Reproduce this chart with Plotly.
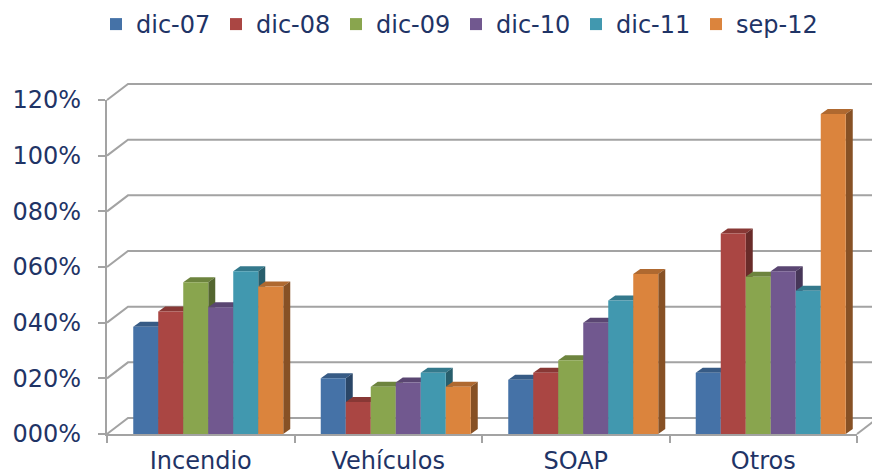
import plotly.graph_objects as go

# Ratio per line of business at each cut-off date
categories = ["Incendio", "Vehículos", "SOAP", "Otros"]
periods = ["dic-07", "dic-08", "dic-09", "dic-10", "dic-11", "sep-12"]
dic_07 = [0.385, 0.20, 0.195, 0.22]
dic_08 = [0.44, 0.115, 0.22, 0.72]
dic_09 = [0.545, 0.17, 0.265, 0.565]
dic_10 = [0.455, 0.185, 0.40, 0.585]
dic_11 = [0.585, 0.22, 0.48, 0.515]
sep_12 = [0.53, 0.17, 0.575, 1.15]
series = [dic_07, dic_08, dic_09, dic_10, dic_11, sep_12]

tick_vals = [0, 0.2, 0.4, 0.6, 0.8, 1.0, 1.2]
tick_text = ["000%", "020%", "040%", "060%", "080%", "100%", "120%"]

colors = ["#4572A7", "#AA4643", "#89A54E", "#71588F", "#4198AF", "#DB843D"]

# Layout geometry
W, H = 872, 476
M_L, M_R, M_T, M_B = 107, 15, 100, 42
PLOT_W, PLOT_H = W - M_L - M_R, H - M_T - M_B
X_RANGE = [-0.5, len(categories) - 0.5]
Y_RANGE = [0, 1.2]
px_x = PLOT_W / (X_RANGE[1] - X_RANGE[0])
px_y = PLOT_H / (Y_RANGE[1] - Y_RANGE[0])

WALL_DX, WALL_DY = 21, 16      # back-wall depth in pixels
BAR_DX, BAR_DY = 7, 5          # bar depth in pixels
GRID = "#a3a3a3"
TEXT = "#1F3466"
FONT = "DejaVu Sans"

bw = 0.8 / len(series)
group_start = -0.36


def shade(hex_color, k):
    r, g, b = (int(hex_color[i:i + 2], 16) for i in (1, 3, 5))
    return "rgb({},{},{})".format(int(r * k), int(g * k), int(b * k))


fig = go.Figure()
shapes = []

# Back wall gridlines with the diagonal to the front axis
for v in tick_vals:
    shapes.append(dict(
        type="path", layer="below",
        xref="paper", yref="paper",
        xsizemode="pixel", ysizemode="pixel",
        xanchor=0, yanchor=(v - Y_RANGE[0]) / (Y_RANGE[1] - Y_RANGE[0]),
        path="M0,0 L{dx},{dy} L{w},{dy}".format(dx=WALL_DX, dy=WALL_DY, w=PLOT_W + 60),
        line=dict(color=GRID, width=2),
    ))
# Right edge of the floor
shapes.append(dict(
    type="path", layer="below",
    xref="paper", yref="paper",
    xsizemode="pixel", ysizemode="pixel",
    xanchor=1, yanchor=0,
    path="M0,0 L{dx},{dy}".format(dx=WALL_DX, dy=WALL_DY),
    line=dict(color=GRID, width=2),
))

ddx = BAR_DX / px_x
ddy = BAR_DY / px_y
for i, (name, vals, col) in enumerate(zip(periods, series, colors)):
    off = group_start + i * bw
    fig.add_trace(go.Bar(
        name=name, x=list(range(len(categories))), y=vals,
        width=bw, offset=off,
        marker=dict(color=col, line=dict(width=0)),
    ))
    for j, v in enumerate(vals):
        xl = j + off
        xr = xl + bw
        # top face
        shapes.append(dict(
            type="path", layer="below", xref="x", yref="y",
            path="M{a},{v} L{b},{v} L{c},{w} L{d},{w} Z".format(
                a=xl, b=xr, c=xr + ddx, d=xl + ddx, v=v, w=v + ddy),
            fillcolor=shade(col, 0.8), line=dict(width=0),
        ))
        # side face
        shapes.append(dict(
            type="path", layer="below", xref="x", yref="y",
            path="M{a},0 L{c},{h} L{c},{w} L{a},{v} Z".format(
                a=xr, c=xr + ddx, h=ddy, v=v, w=v + ddy),
            fillcolor=shade(col, 0.62), line=dict(width=0),
        ))

fig.update_layout(
    width=W, height=H,
    margin=dict(l=M_L, r=M_R, t=M_T, b=M_B, autoexpand=False),
    paper_bgcolor="white", plot_bgcolor="white",
    barmode="overlay",
    font=dict(family=FONT, color=TEXT, size=24),
    shapes=shapes,
    showlegend=True,
    legend=dict(
        orientation="h", xref="container", yref="container",
        x=96 / W, y=1 - 2 / H, xanchor="left", yanchor="top",
        font=dict(size=24, color=TEXT, family=FONT),
        itemwidth=30, entrywidth=75, entrywidthmode="pixels",
        traceorder="normal", bgcolor="rgba(0,0,0,0)",
    ),
    xaxis=dict(
        range=X_RANGE, tickmode="array",
        tickvals=list(range(len(categories))), ticktext=categories,
        ticks="", showgrid=False, zeroline=False, automargin=False,
        showline=True, linecolor=GRID, linewidth=2,
        tickfont=dict(size=24, color=TEXT, family=FONT),
        ticklabelstandoff=4,
        minor=dict(tickmode="array",
                   tickvals=[k - 0.5 for k in range(len(categories) + 1)],
                   ticks="outside", ticklen=7, tickwidth=2, tickcolor=GRID,
                   showgrid=False),
    ),
    yaxis=dict(
        range=Y_RANGE, tickmode="array",
        tickvals=tick_vals, ticktext=tick_text,
        ticks="outside", ticklen=7, tickwidth=2, tickcolor=GRID,
        showgrid=False, zeroline=False, automargin=False,
        showline=True, linecolor=GRID, linewidth=2,
        tickfont=dict(size=24, color=TEXT, family=FONT),
        ticklabelstandoff=12,
    ),
)

fig.write_html("out.html")
